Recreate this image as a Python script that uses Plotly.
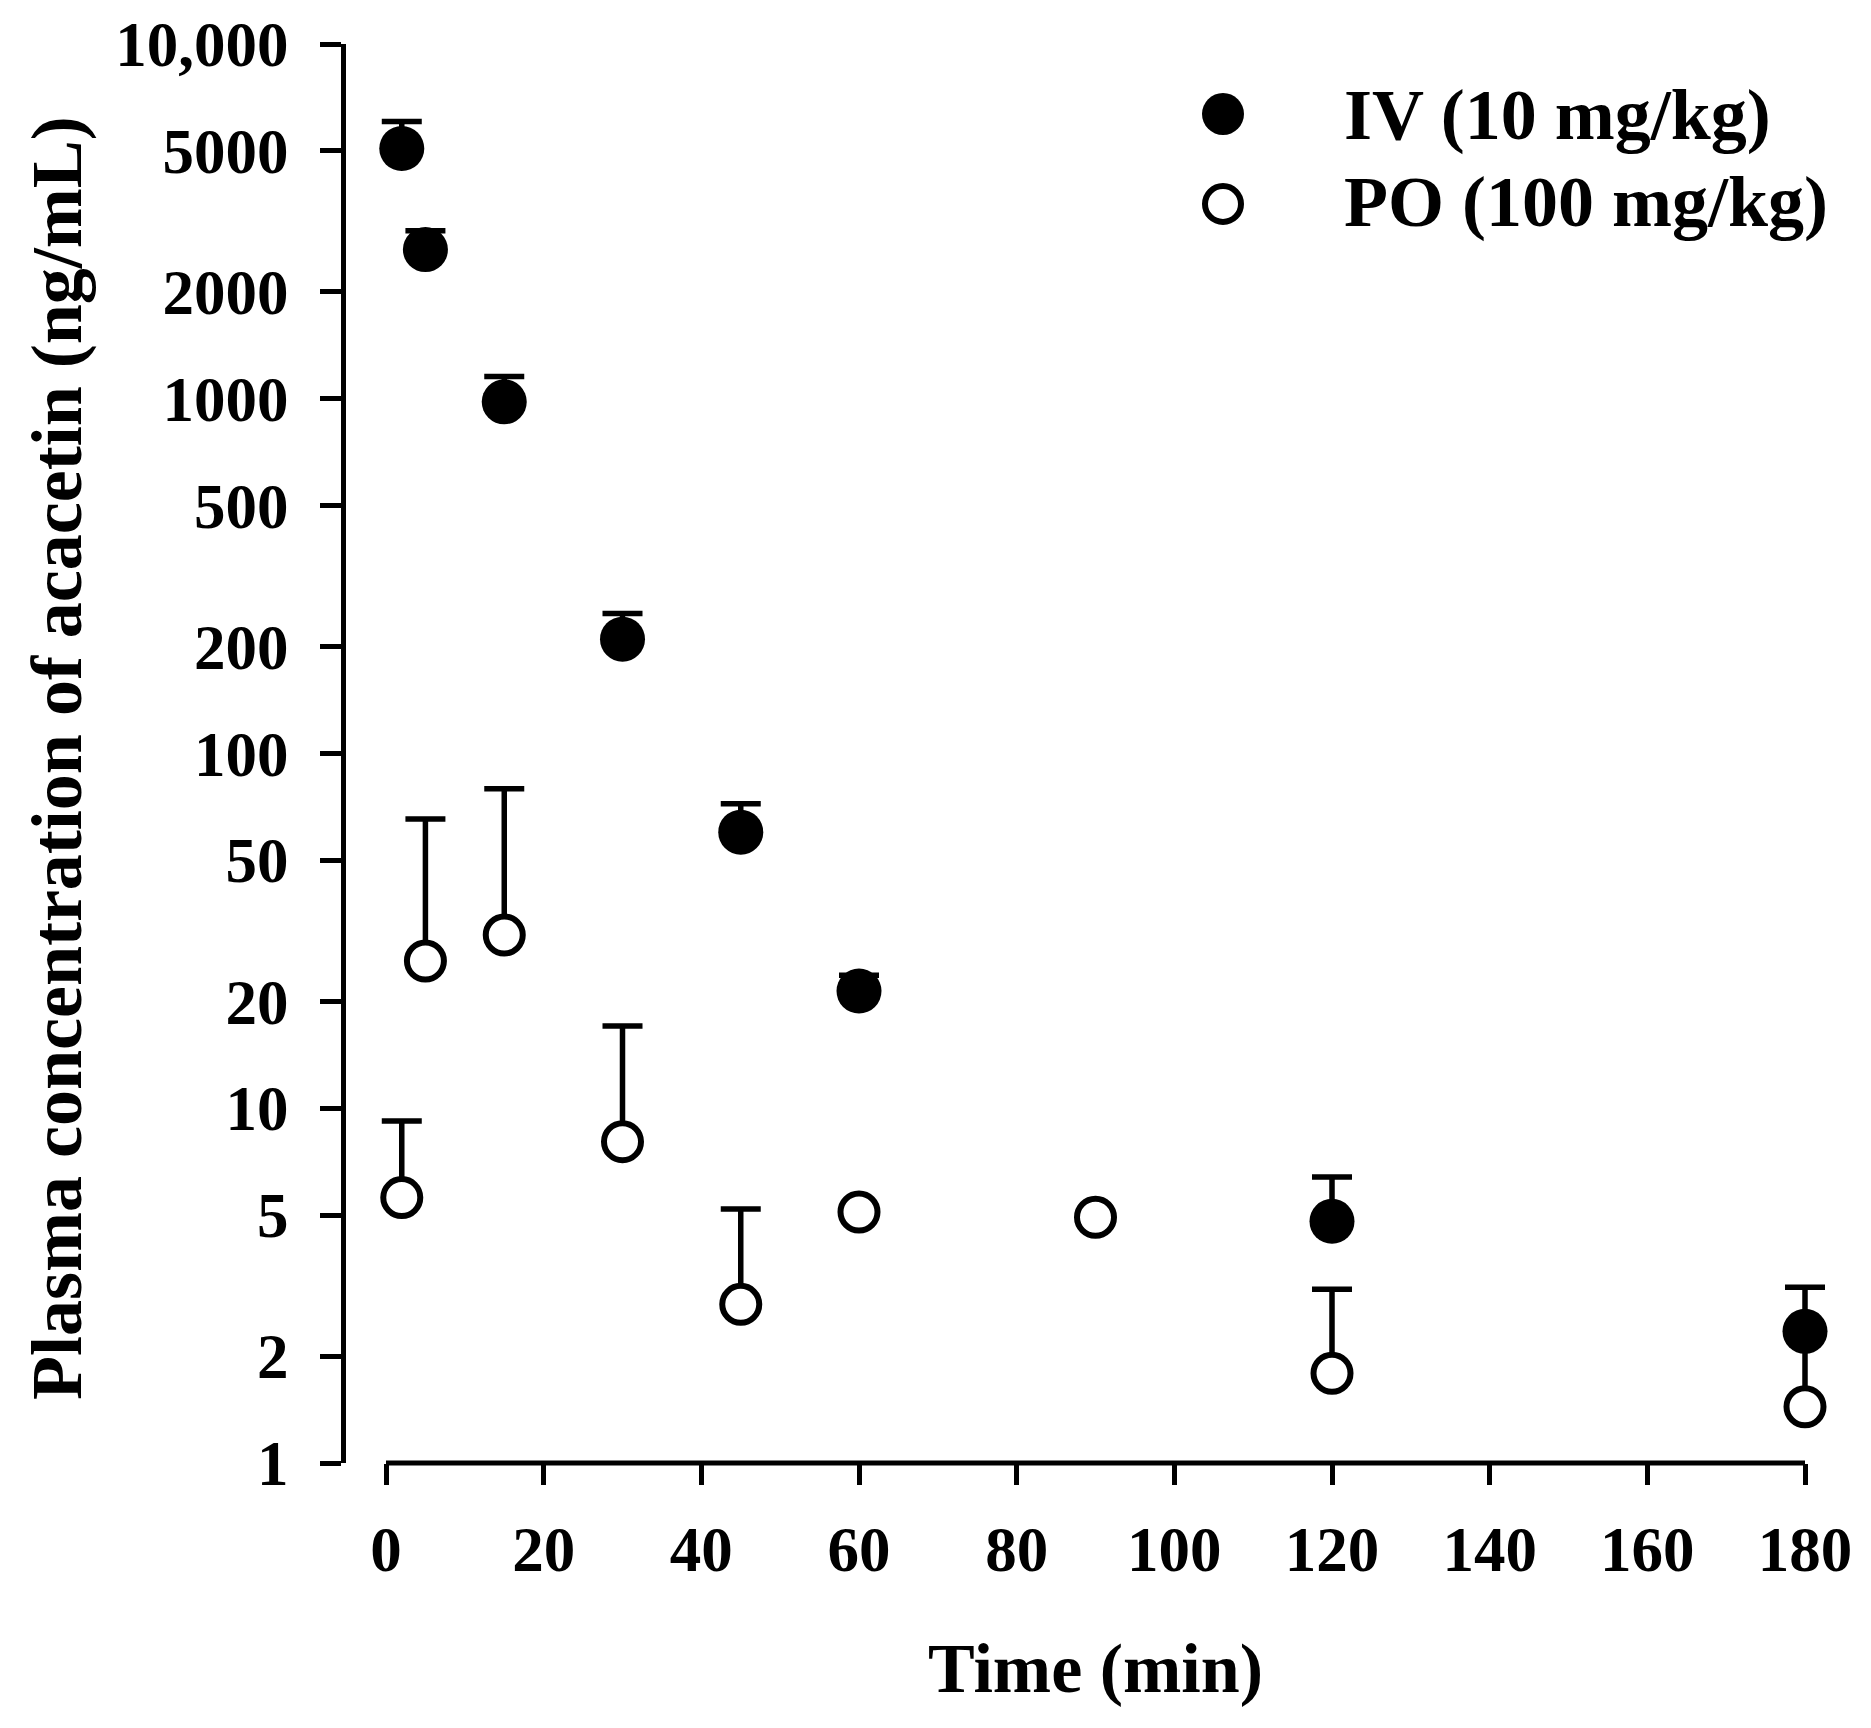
import plotly.graph_objects as go

# acacetin plasma concentration, mean + SD (upper bars only)
iv_time = [2, 5, 15, 30, 45, 60, 120, 180]
iv_mean = [5075, 2633, 980, 210, 60, 21.4, 4.8, 2.35]
iv_sd = [975, 344, 176, 38, 12.2, 2.3, 1.6, 0.78]

po_time = [2, 5, 15, 30, 45, 60, 90, 120, 180]
po_mean = [5.6, 26.0, 30.8, 8.05, 2.8, 5.1, 4.93, 1.79, 1.44]
po_sd = [3.6, 39.4, 48.8, 9.0, 2.4, 0, 0, 1.3, 0.9]

x_ticks = [0, 20, 40, 60, 80, 100, 120, 140, 160, 180]
y_ticks = [1, 2, 5, 10, 20, 50, 100, 200, 500, 1000, 2000, 5000, 10000]
y_labels = ["1", "2", "5", "10", "20", "50", "100", "200", "500", "1000", "2000", "5000", "10,000"]

legend_names = ["IV (10 mg/kg)", "PO (100 mg/kg)"]

FONT = "Liberation Serif, Times New Roman, serif"
W, H = 1855, 1712

fig = go.Figure()

# PO first so the IV markers sit on top of its bars
fig.add_trace(go.Scatter(
    x=po_time, y=po_mean, mode="markers", name=legend_names[1],
    marker=dict(symbol="circle", size=37, color="white",
                line=dict(color="black", width=6)),
    error_y=dict(type="data", symmetric=False, array=po_sd,
                 arrayminus=[0] * len(po_sd), color="black",
                 thickness=5.5, width=20),
    cliponaxis=False, showlegend=False,
))
fig.add_trace(go.Scatter(
    x=iv_time, y=iv_mean, mode="markers", name=legend_names[0],
    marker=dict(symbol="circle", size=45, color="black",
                line=dict(width=0)),
    error_y=dict(type="data", symmetric=False, array=iv_sd,
                 arrayminus=[0] * len(iv_sd), color="black",
                 thickness=5.5, width=20),
    cliponaxis=False, showlegend=False,
))

tick_font = dict(family=FONT, size=63, color="black", weight="bold")

fig.update_layout(
    template="none",
    width=W, height=H,
    margin=dict(l=0, r=0, t=0, b=0, autoexpand=False),
    paper_bgcolor="white", plot_bgcolor="white",
    font=dict(family=FONT, color="black"),
    xaxis=dict(
        # a little room past 0 and 180 so the caps are not cut
        domain=[354.35 / W, 1820.65 / W], range=[-3, 183],
        tickvals=x_ticks,
        showline=False, automargin=False,
        ticks="outside", ticklen=21, tickwidth=5, tickcolor="black",
        tickfont=tick_font, ticklabelstandoff=10,
        showgrid=False, zeroline=False,
    ),
    yaxis=dict(
        domain=[1 - 1455 / H, 1 - 36 / H], type="log", range=[0, 4],
        anchor="free", position=335 / W, automargin=False,
        tickvals=y_ticks, ticktext=y_labels,
        showline=True, linecolor="black", linewidth=5,
        ticks="outside", ticklen=21, tickwidth=5, tickcolor="black",
        tickfont=tick_font, ticklabelstandoff=19,
        showgrid=False, zeroline=False,
    ),
)

# x axis line only spans 0..180
fig.add_shape(type="line", xref="x", yref="y domain",
              x0=x_ticks[0], x1=x_ticks[-1], y0=0, y1=0,
              line=dict(color="black", width=5))

fig.add_annotation(text="Time (min)", xref="paper", yref="paper",
                   x=(386 + 1805 - 16) / 2 / W, y=1 - 1660 / H,
                   xanchor="center", yanchor="middle", showarrow=False,
                   font=dict(family=FONT, size=70, color="black", weight="bold"))
fig.add_annotation(text="Plasma concentration of acacetin (ng/mL)",
                   xref="paper", yref="paper",
                   x=49 / W, y=1 - 750 / H, textangle=-90,
                   xanchor="center", yanchor="middle", showarrow=False,
                   font=dict(family=FONT, size=72, color="black", weight="bold"))

# legend drawn by hand: plotly caps legend symbols at 16 px
leg_x = 1215 / W
leg_y = [1 - 106 / H, 1 - 196 / H]
fig.add_shape(type="circle", xref="paper", yref="paper",
              xsizemode="pixel", ysizemode="pixel",
              xanchor=leg_x, yanchor=leg_y[0],
              x0=-21, x1=21, y0=-21, y1=21,
              fillcolor="black", line=dict(width=0))
fig.add_shape(type="circle", xref="paper", yref="paper",
              xsizemode="pixel", ysizemode="pixel",
              xanchor=leg_x, yanchor=leg_y[1],
              x0=-18, x1=18, y0=-18, y1=18,
              fillcolor="white", line=dict(color="black", width=6))
for name, ly in zip(legend_names, [1 - 107 / H, 1 - 194 / H]):
    fig.add_annotation(text=name, xref="paper", yref="paper",
                       x=1334 / W, y=ly, xanchor="left", yanchor="middle",
                       showarrow=False,
                       font=dict(family=FONT, size=72, color="black", weight="bold"))

fig.write_html("out.html")
